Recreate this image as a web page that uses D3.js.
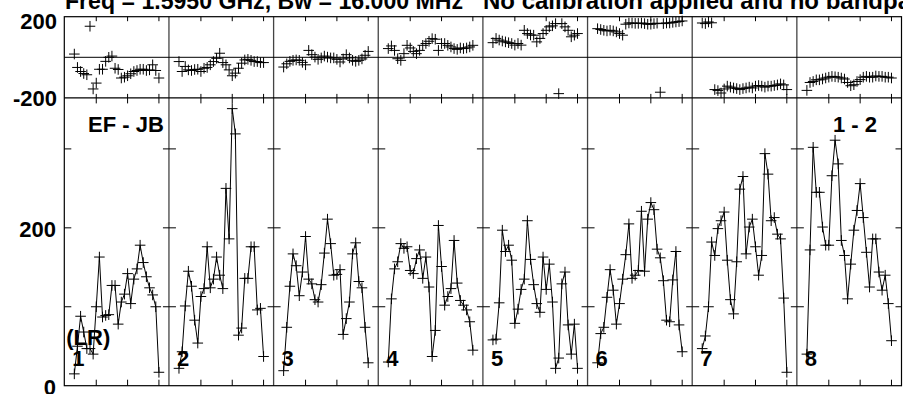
<!DOCTYPE html>
<html><head><meta charset="utf-8">
<script src="https://cdn.jsdelivr.net/npm/d3@7"></script>
<style>
body{margin:0;background:#fff}
svg{display:block}
text{font-family:"Liberation Sans",Arial,Helvetica,sans-serif;font-weight:bold;fill:#000}
</style>
</head><body>
<svg id="chart" width="903" height="394"></svg>
<script>
// ---------------- data ----------------
const channels = [3,4,5,6,7,8,9,10,11,12,13,14,15,16,17,18,19,20,21,22,23,24,25,26,27,28,29,30];
const ifLabels = ["1","2","3","4","5","6","7","8"];

const amp1 = [15,50,88,68,47,47,40,100,163,87,89,90,127,127,78,106,116,142,104,135,148,178,156,138,124,115,100,17];
const amp2 = [22,43,101,145,126,83,54,113,123,176,124,135,163,140,123,250,186,351,319,64,73,136,136,176,176,96,98,37];
const amp3 = [19,74,126,167,152,114,144,189,135,129,109,106,128,168,211,180,140,141,147,65,85,106,167,181,132,124,74,29];
const amp4 = [30,110,148,157,180,174,176,146,142,161,172,136,163,125,37,70,203,151,102,113,123,184,130,108,102,96,81,45];
const amp5 = [58,59,105,197,170,178,159,79,97,122,135,209,160,128,104,93,163,122,154,106,22,35,129,144,77,40,78,22];
const amp6 = [29,66,74,112,147,121,78,104,135,166,205,136,140,146,221,145,211,232,223,173,162,133,83,81,134,170,77,43];
const amp7 = [47,63,100,182,165,199,209,220,159,109,91,157,249,265,167,201,211,176,140,165,294,268,209,213,192,186,111,17];
const amp8 = [40,172,302,245,245,201,178,178,266,311,281,184,165,110,154,197,222,256,213,169,125,186,186,144,121,140,104,57];

const phase1 = [16,-50,-70,-80,-86,153,-156,-127,-59,-59,-20,0,6,-54,-60,-102,-98,-91,-81,-70,-65,-59,-59,-65,-62,-37,-65,-102];
const phase2 = [-21,-70,-45,-62,-65,-60,-59,-70,-54,-50,-37,-21,-5,20,-26,-37,-62,-91,-78,-54,-29,-13,-10,-15,-21,-21,-26,-26];
const phase3 = [-48,-32,-20,-15,-13,-15,-25,-37,34,13,1,-10,-3,6,1,-3,-3,-10,-23,-8,13,-3,-15,-20,-15,-8,10,29];
const phase4 = [43,56,34,-7,-15,18,59,46,29,18,34,59,68,79,92,89,34,68,68,59,51,43,39,46,43,46,51,59];
const phase5 = [72,93,85,80,76,72,68,60,68,60,133,117,110,109,76,93,117,133,150,155,166,-179,166,150,133,101,109,117];
const phase6 = [141,137,133,130,133,130,125,117,109,163,169,169,167,167,169,166,163,163,166,168,-172,166,169,169,172,174,176,179];
const phase7 = [169,166,174,170,-159,-164,-176,-156,-142,-147,-151,-154,-159,-154,-151,-147,-151,-142,-139,-142,-147,-142,-142,-139,-136,-131,-136,-159];
const phase8 = [-163,-124,-119,-111,-111,-107,-102,-98,-94,-96,-98,-102,-107,-124,-140,-135,-119,-110,-98,-94,-98,-98,-92,-94,-94,-98,-98,-102];

const channelTicks = [10,20,30];
const phaseTickLabels = [200,-200];
const ampTicks = [100,200,300];
const ampTickLabels = [0,200];
const titleText = "Freq = 1.5950 GHz, Bw = 16.000 MHz";
const subtitleText = "No calibration applied and no bandpass";
const baselineText = "EF - JB";
const polText = "(LR)";
const ifRangeText = "1 - 2";

const ampSeries = [amp1,amp2,amp3,amp4,amp5,amp6,amp7,amp8];
const phaseSeries = [phase1,phase2,phase3,phase4,phase5,phase6,phase7,phase8];

// ---------------- layout ----------------
const svg = d3.select("#chart");
const L = 64.3, R = 901.5;
const pTop = 16.7, pBot = 97.9, aBot = 385.7;
const nP = ifLabels.length;
const pw = (R - L) / nP;

const yPhase = d3.scaleLinear().domain([-200,200]).range([pBot,pTop]);
const yAmp = d3.scaleLinear().domain([0,364.6]).range([aBot,pBot]);
const xPanel = i => d3.scaleLinear().domain([-0.2,33.2]).range([L + i*pw, L + (i+1)*pw]);

const crossPath = (x,y,s) => `M${x-s},${y}H${x+s}M${x},${y-s}V${y+s}`;

// title (partly clipped at the top)
svg.append("text").attr("x",65).attr("y",8.5).attr("font-size",24).attr("textLength",398)
  .attr("lengthAdjust","spacingAndGlyphs").text(titleText);
svg.append("text").attr("x",483).attr("y",8.5).attr("font-size",24).text(subtitleText);

const g = svg.append("g");

// panel dividers
for (let i = 1; i < nP; i++) {
  const x = L + i*pw;
  g.append("line").attr("x1",x).attr("x2",x).attr("y1",pTop).attr("y2",aBot)
    .attr("stroke","#444").attr("stroke-width",1.3);
}
// outer frame + horizontal lines
g.append("rect").attr("x",L).attr("y",pTop).attr("width",R-L).attr("height",aBot-pTop)
  .attr("fill","none").attr("stroke","#000").attr("stroke-width",1.2);
g.append("line").attr("x1",L).attr("x2",R).attr("y1",pBot).attr("y2",pBot).attr("stroke","#000").attr("stroke-width",1.2);
g.append("line").attr("x1",L).attr("x2",R).attr("y1",yPhase(0)).attr("y2",yPhase(0)).attr("stroke","#000").attr("stroke-width",1);

// ticks
for (let i = 0; i < nP; i++) {
  const x = xPanel(i);
  channelTicks.forEach(c => {
    const xx = x(c);
    g.append("path").attr("d",`M${xx},${pTop}V${pTop+4.5}M${xx},${pBot-4}V${pBot+5.5}M${xx},${aBot}V${aBot-6}`)
      .attr("stroke","#000").attr("stroke-width",1);
  });
  const x0 = L + i*pw, x1 = L + (i+1)*pw;
  ampTicks.forEach(v => {
    const yy = yAmp(v);
    g.append("path").attr("d",`M${x0},${yy}H${x0+7}M${x1},${yy}H${x1-6}`)
      .attr("stroke","#000").attr("stroke-width",1);
  });
}

// tick labels
svg.append("text").attr("x",57).attr("y",yPhase(200)+5).attr("font-size",22)
  .attr("text-anchor","end").attr("dominant-baseline","central").text(phaseTickLabels[0]);
svg.append("text").attr("x",57).attr("y",yPhase(-200)+1).attr("font-size",22)
  .attr("text-anchor","end").attr("dominant-baseline","central").text(phaseTickLabels[1]);
ampTickLabels.forEach(v => {
  svg.append("text").attr("x",56).attr("y",yAmp(v)+1.5).attr("font-size",22)
    .attr("text-anchor","end").attr("dominant-baseline","central").text(v);
});

// data
const line = d3.line();
for (let i = 0; i < nP; i++) {
  const x = xPanel(i);
  const amp = ampSeries[i], ph = phaseSeries[i];
  const pts = channels.map((c,k) => [x(c), yAmp(amp[k])]);
  g.append("path").attr("d",line(pts)).attr("fill","none").attr("stroke","#000").attr("stroke-width",1);
  g.append("path").attr("d",pts.map(p=>crossPath(p[0],p[1],5.3)).join(""))
    .attr("fill","none").attr("stroke","#000").attr("stroke-width",1);
  const ppts = channels.map((c,k) => [x(c), yPhase(ph[k])]);
  g.append("path").attr("d",ppts.map(p=>crossPath(p[0],p[1],5.3)).join(""))
    .attr("fill","none").attr("stroke","#000").attr("stroke-width",1);
  // IF number
  svg.append("text").attr("x",L + i*pw + 8).attr("y",366).attr("font-size",22).text(ifLabels[i]);
}

svg.append("text").attr("x",L + 2).attr("y",345).attr("font-size",22).text(polText);
svg.append("text").attr("x",88).attr("y",132).attr("font-size",22).text(baselineText);
svg.append("text").attr("x",877).attr("y",132).attr("font-size",22).attr("text-anchor","end").text(ifRangeText);
</script>
</body></html>
